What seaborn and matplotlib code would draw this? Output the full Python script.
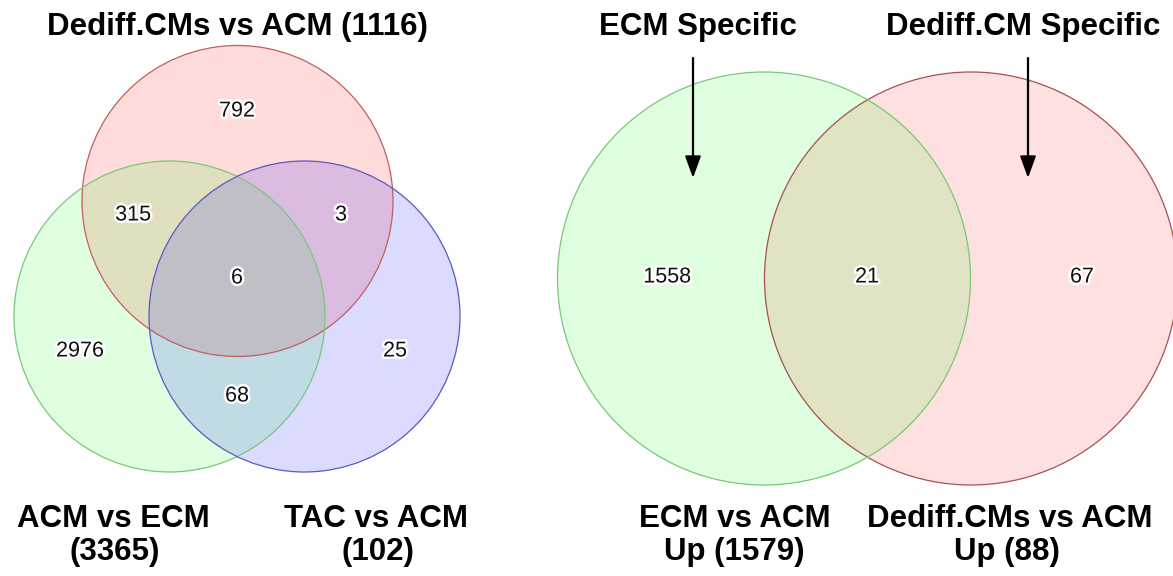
import matplotlib
matplotlib.use("Agg")
import matplotlib.pyplot as plt
import matplotlib.patheffects as pe
from matplotlib.patches import Circle
import seaborn as sns

# ---- data -------------------------------------------------------------
three_set_names = ["Dediff.CMs vs ACM", "ACM vs ECM", "TAC vs ACM"]
three_set_totals = [1116, 3365, 102]
# region counts: only A, A&B, A&C, A&B&C, only B, only C, B&C
three_region_keys = ["A", "AB", "AC", "ABC", "B", "C", "BC"]
three_region_counts = [792, 315, 3, 6, 2976, 25, 68]

two_set_names = ["ECM vs ACM", "Dediff.CMs vs ACM"]
two_set_totals = [1579, 88]
two_region_keys = ["A", "AB", "B"]
two_region_counts = [1558, 21, 67]
two_callouts = ["ECM Specific", "Dediff.CM Specific"]

# ---- style ------------------------------------------------------------
sns.set_theme(style="white")
plt.rcParams["font.family"] = ["Liberation Sans", "DejaVu Sans"]

fill_red, edge_red = "#ff0000", "#bf6060"
fill_green, edge_green = "#00ff00", "#78c878"
fill_blue, edge_blue = "#0000ff", "#5a5ac0"

fig = plt.figure(figsize=(11.73, 5.76), dpi=100)
ax = fig.add_axes([0, 0, 1, 1])
ax.set_xlim(0, 1173)
ax.set_ylim(576, 0)
ax.set_aspect("equal")
ax.axis("off")

title_kw = dict(fontsize=22.5, fontweight="bold", ha="center", va="center",
                color="black")
num_kw = dict(fontsize=15.5, ha="center", va="center", color="#111111",
              path_effects=[pe.withStroke(linewidth=3.5, foreground="white")])


def draw_circle(center, radius, face, edge, alpha):
    ax.add_patch(Circle(center, radius, facecolor=face, edgecolor="none",
                        alpha=alpha, zorder=1))
    ax.add_patch(Circle(center, radius, facecolor="none", edgecolor=edge,
                        linewidth=0.9, zorder=2))


# ---- three-set diagram --------------------------------------------------
r3 = 155.5
c_red, c_green, c_blue = (237.5, 201), (169.5, 316.5), (304.5, 316.5)
draw_circle(c_red, r3, fill_red, edge_red, 0.14)
draw_circle(c_green, r3, fill_green, edge_green, 0.12)
draw_circle(c_blue, r3, fill_blue, edge_blue, 0.14)

three_label_pos = {"A": (237, 111), "AB": (133, 215), "AC": (341, 215),
                   "ABC": (237, 278), "B": (80, 351), "C": (395, 351),
                   "BC": (237, 396)}
for key, count in zip(three_region_keys, three_region_counts):
    x, y = three_label_pos[key]
    ax.text(x, y, str(count), zorder=5, **num_kw)

ax.text(237, 27, f"{three_set_names[0]} ({three_set_totals[0]})", **title_kw)
ax.text(113, 519, three_set_names[1], **title_kw)
ax.text(115, 552, f"({three_set_totals[1]})", **title_kw)
ax.text(376, 519, three_set_names[2], **title_kw)
ax.text(378, 552, f"({three_set_totals[2]})", **title_kw)

# ---- two-set diagram ----------------------------------------------------
r2 = 206.5
c_left, c_right = (764, 278.5), (971, 278.5)
draw_circle(c_right, r2, fill_red, "#a85050", 0.12)
draw_circle(c_left, r2, fill_green, edge_green, 0.12)

two_label_pos = {"A": (667, 277), "AB": (867, 277), "B": (1082, 277)}
for key, count in zip(two_region_keys, two_region_counts):
    x, y = two_label_pos[key]
    ax.text(x, y, str(count), zorder=5, **num_kw)

ax.text(698, 27, two_callouts[0], **title_kw)
ax.text(1023, 27, two_callouts[1], **title_kw)
for x in (693, 1028):
    ax.annotate("", xy=(x, 178), xytext=(x, 58),
                arrowprops=dict(arrowstyle="-|>,head_length=1.1,head_width=0.4",
                                color="black", lw=1.6, shrinkA=0, shrinkB=0),
                zorder=6)

ax.text(735, 519, two_set_names[0], **title_kw)
ax.text(734, 552, f"Up ({two_set_totals[0]})", **title_kw)
ax.text(1010, 519, two_set_names[1], **title_kw)
ax.text(1007, 552, f"Up ({two_set_totals[1]})", **title_kw)

fig.savefig("out.png", dpi=100, facecolor="white")
